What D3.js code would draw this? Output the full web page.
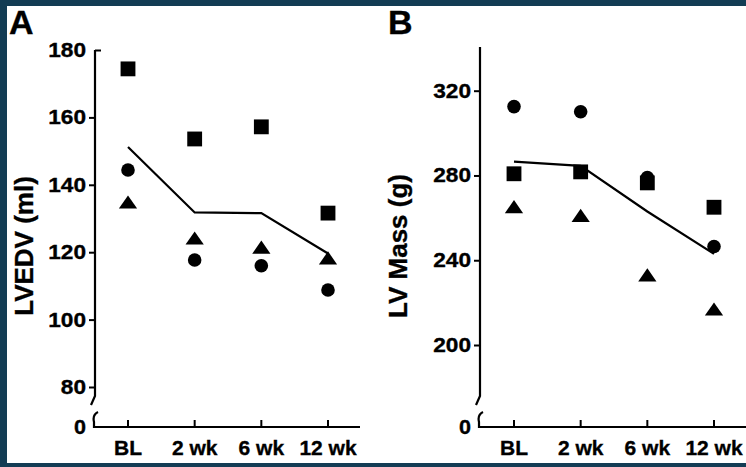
<!DOCTYPE html>
<html>
<head>
  <meta charset="utf-8">
  <title>LVEDV and LV mass</title>
  <style>
    body { margin: 0; background: #133c54; }
    svg { display: block; }
    text { font-family: "Liberation Sans", Arial, sans-serif; font-weight: bold; fill: #000; stroke: #000; stroke-width: 0.35px; }
  </style>
</head>
<body>
  <svg width="746" height="467"></svg>
  <script src="https://d3js.org/d3.v7.min.js"></script>
  <script>

  // data
  var cats = ["BL", "2 wk", "6 wk", "12 wk"];

  var edvSquare   = [174.4, 153.6, 157.2, 131.6];
  var edvCircle   = [144.4, 117.7, 116.0, 108.8];
  var edvTriangle = [134.9, 124.2, 121.5, 118.3];
  var edvMean     = [151.2, 131.8, 131.6, 119.6];
  var edvTicks    = [80, 100, 120, 140, 160, 180];

  var massSquare   = [280.8, 281.7, 276.5, 265.0];
  var massCircle   = [312.5, 310.1, 279.0, 246.5];
  var massTriangle = [265.3, 261.2, 233.1, 217.0];
  var massMean     = [286.5, 284.5, 263.0, 243.0];
  var massTicks    = [200, 240, 280, 320];

  var svg = d3.select("svg");

  // white page inside the dark frame
  svg.append("rect")
    .attr("x", 7).attr("y", 6)
    .attr("width", 739).attr("height", 457)
    .attr("fill", "#fff");

  // flat triangle, centred on its box
  var flatTriangle = {
    draw: function(ctx, size) {
      var w = Math.sqrt(size) * 1.4, h = w * 0.72;
      ctx.moveTo(0, -h / 2);
      ctx.lineTo(w / 2, h / 2);
      ctx.lineTo(-w / 2, h / 2);
      ctx.closePath();
    }
  };

  function panel(o) {
    var g = svg.append("g");
    var x = d3.scalePoint().domain(cats).range(o.xRange);
    var y = d3.scaleLinear().domain(o.yDomain).range(o.yRange);
    var ax = o.axisX, zero = o.zeroY;

    // panel letter
    g.append("text")
      .attr("x", o.letterX).attr("y", 34)
      .attr("font-size", "34px")
      .text(o.letter);

    // y ticks
    var yAxis = g.append("g")
      .attr("transform", "translate(" + ax + ",0)")
      .call(d3.axisLeft(y).tickValues(o.ticks).tickSize(6).tickPadding(3).tickFormat(d3.format("d")));
    yAxis.select(".domain").remove();
    yAxis.selectAll("line").attr("stroke", "#000").attr("stroke-width", 2);
    // the figure's digits are wide: stretch them a little
    yAxis.selectAll("text")
      .attr("font-size", "20px")
      .attr("textLength", function(d) { return String(d).length * 12.6; })
      .attr("lengthAdjust", "spacingAndGlyphs");
    if (o.topTickRight) {
      yAxis.selectAll(".tick").filter(function(d) { return d === o.yDomain[1]; })
        .select("line").attr("x2", 6);
    }

    // "0" label
    g.append("text")
      .attr("x", ax - 9).attr("y", zero)
      .attr("dy", "0.35em")
      .attr("text-anchor", "end")
      .attr("font-size", "20px")
      .attr("textLength", 12)
      .attr("lengthAdjust", "spacingAndGlyphs")
      .text("0");

    // axis with break
    var upper = d3.path();
    upper.moveTo(ax, o.axisTop);
    upper.lineTo(ax, zero - 31);
    upper.lineTo(ax - 4, zero - 22);
    g.append("path").attr("d", upper.toString())
      .attr("fill", "none").attr("stroke", "#000").attr("stroke-width", 2.2);

    var lower = d3.path();
    lower.moveTo(ax + 3, zero - 15);
    lower.bezierCurveTo(ax - 1, zero - 13, ax - 2, zero - 9, ax - 1, zero - 5);
    lower.lineTo(ax - 1, zero);
    lower.lineTo(o.axisRight, zero);
    g.append("path").attr("d", lower.toString())
      .attr("fill", "none").attr("stroke", "#000").attr("stroke-width", 2.2);

    // x ticks (pointing up) and labels
    g.selectAll(".xt").data(cats).enter().append("line")
      .attr("x1", function(d) { return x(d); })
      .attr("x2", function(d) { return x(d); })
      .attr("y1", zero).attr("y2", zero - 7)
      .attr("stroke", "#000").attr("stroke-width", 2);
    g.selectAll(".xl").data(cats).enter().append("text")
      .attr("x", function(d) { return x(d); })
      .attr("y", 455)
      .attr("text-anchor", "middle")
      .attr("font-size", "21px")
      .text(function(d) { return d; });

    // y label
    g.append("text")
      .attr("transform", "translate(" + o.labelX + "," + o.labelY + ") rotate(-90)")
      .attr("text-anchor", "middle")
      .attr("font-size", "26px")
      .text(o.label);

    // mean line
    var line = d3.line()
      .x(function(d, i) { return x(cats[i]); })
      .y(function(d) { return y(d); });
    g.append("path").datum(o.mean)
      .attr("d", line)
      .attr("fill", "none").attr("stroke", "#000").attr("stroke-width", 2.2);

    // markers: circles first, squares over them
    var sets = [
      { vals: o.circle, type: d3.symbolCircle, size: 145 },
      { vals: o.triangle, type: flatTriangle, size: 170 },
      { vals: o.square, type: d3.symbolSquare, size: 220 }
    ];
    sets.forEach(function(s) {
      g.selectAll(null).data(s.vals).enter().append("path")
        .attr("transform", function(d, i) { return "translate(" + x(cats[i]) + "," + y(d) + ")"; })
        .attr("d", d3.symbol().type(s.type).size(s.size))
        .attr("fill", "#000");
    });
  }

  panel({
    letter: "A", letterX: 9,
    xRange: [128, 328],
    yDomain: [80, 180], yRange: [387, 50],
    ticks: edvTicks, topTickRight: true,
    axisX: 95, axisTop: 50, axisRight: 360, zeroY: 427,
    label: "LVEDV (ml)", labelX: 33, labelY: 246,
    square: edvSquare, circle: edvCircle, triangle: edvTriangle, mean: edvMean
  });

  panel({
    letter: "B", letterX: 388,
    xRange: [514, 714],
    yDomain: [200, 320], yRange: [345, 90.7],
    ticks: massTicks, topTickRight: false,
    axisX: 480, axisTop: 47, axisRight: 746, zeroY: 427,
    label: "LV Mass (g)", labelX: 407, labelY: 246,
    square: massSquare, circle: massCircle, triangle: massTriangle, mean: massMean
  });

  </script>
</body>
</html>
